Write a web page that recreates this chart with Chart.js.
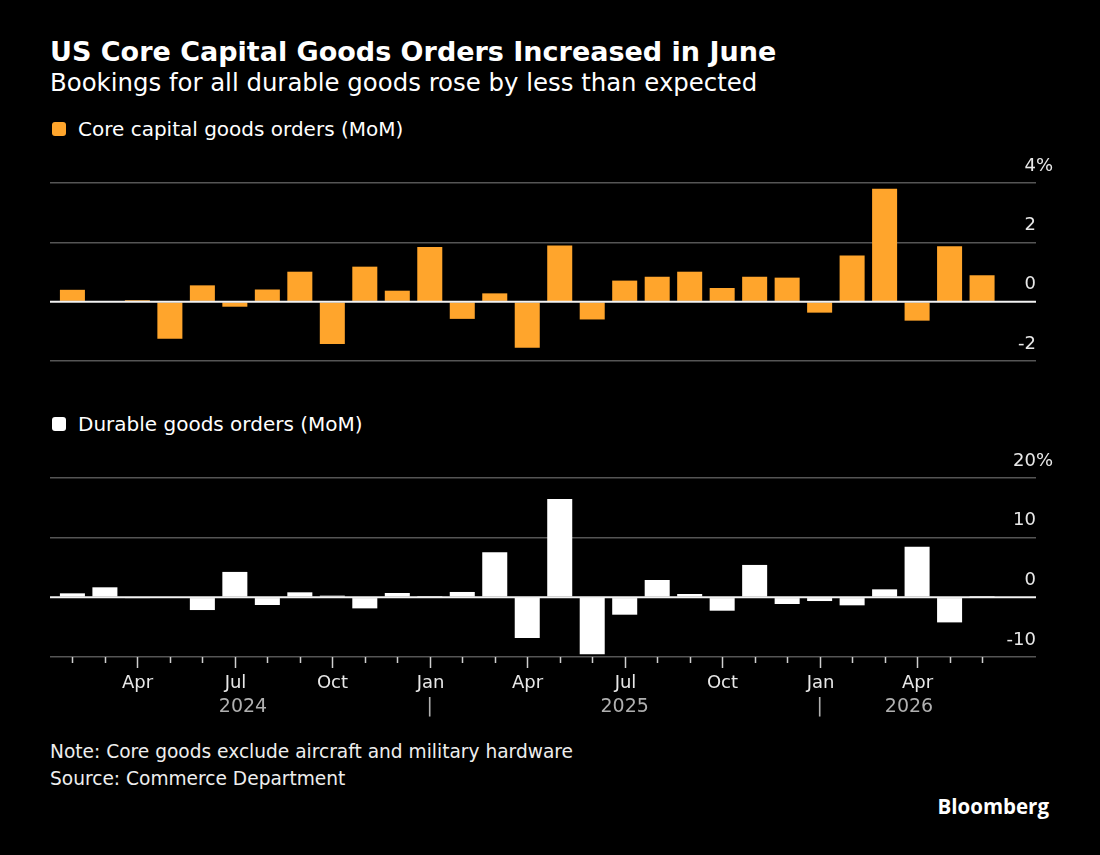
<!DOCTYPE html>
<html>
<head>
<meta charset="utf-8">
<style>
  body { margin: 0; background: #000; }
  #wrap { position: relative; width: 1100px; height: 855px; background: #000; color: #fff;
          font-family: "DejaVu Sans", sans-serif; overflow: hidden; }
  .title { position: absolute; left: 50px; top: 36px; font-size: 27px; font-weight: bold; white-space: nowrap; }
  .subtitle { position: absolute; left: 50px; top: 68px; font-size: 24.4px; white-space: nowrap; }
  .legend { position: absolute; left: 52px; font-size: 20px; display: flex; align-items: center; white-space: nowrap; }
  .legend i { display: inline-block; width: 14px; height: 14px; border-radius: 3px; margin-right: 12px; }
  .note { position: absolute; left: 50px; font-size: 18.6px; color: #eee; white-space: nowrap; }
  .logo { position: absolute; right: 51px; top: 792px; font-size: 20.5px; font-weight: bold; font-family: "Open Sans", sans-serif; }
  .box { position: absolute; left: 0; width: 1100px; }
</style>
</head>
<body>
<div id="wrap">
  <div class="title">US Core Capital Goods Orders Increased in June</div>
  <div class="subtitle">Bookings for all durable goods rose by less than expected</div>

  <div class="legend" style="top:117px"><i style="background:#ffa52c"></i>Core capital goods orders (MoM)</div>
  <div class="box" style="top:150px;height:230px"><canvas id="core"></canvas></div>

  <div class="legend" style="top:412px"><i style="background:#fff"></i>Durable goods orders (MoM)</div>
  <div class="box" style="top:440px;height:290px"><canvas id="durable"></canvas></div>

  <div class="note" style="top:741px">Note: Core goods exclude aircraft and military hardware</div>
  <div class="note" style="top:768px">Source: Commerce Department</div>
  <div class="logo">Bloomberg</div>
</div>

<script src="https://cdn.jsdelivr.net/npm/chart.js"></script>
<script>
  const dates = [
    "2024-02", "2024-03", "2024-04", "2024-05", "2024-06", "2024-07", "2024-08", "2024-09", "2024-10", "2024-11", "2024-12",
    "2025-01", "2025-02", "2025-03", "2025-04", "2025-05", "2025-06", "2025-07", "2025-08", "2025-09", "2025-10", "2025-11", "2025-12",
    "2026-01", "2026-02", "2026-03", "2026-04", "2026-05", "2026-06",
  ];
  // month-over-month % change
  const coreOrders = [
    0.4, 0.0, 0.05, -1.25, 0.55, -0.17, 0.41, 1.01, -1.43, 1.18, 0.37,
    1.84, -0.58, 0.28, -1.55, 1.89, -0.6, 0.71, 0.84, 1.01, 0.46, 0.84, 0.81,
    -0.37, 1.56, 3.81, -0.64, 1.87, 0.89,
  ];
  const durableOrders = [
    0.67, 1.68, -0.1, 0.0, -2.13, 4.26, -1.29, 0.84, 0.28, -1.85, 0.73,
    0.22, 0.9, 7.56, -6.83, 16.5, -9.52, -2.91, 2.91, 0.56, -2.24, 5.43, -1.12,
    -0.62, -1.34, 1.34, 8.46, -4.2, 0.22,
  ];
  const coreTicks = [-2, 0, 2, 4];
  const durableTicks = [-10, 0, 10, 20];
  const monthNames = ["Jan", "Feb", "Mar", "Apr", "May", "Jun", "Jul", "Aug", "Sep", "Oct", "Nov", "Dec"];

  const FONT = '"DejaVu Sans", sans-serif';

  // y labels sit above their gridline, numbers right aligned, % hangs off the top one
  const yLabels = {
    id: "yLabels",
    afterDraw(chart) {
      const { ctx, chartArea } = chart;
      const y = chart.scales.y;
      ctx.save();
      ctx.font = "18px " + FONT;
      ctx.fillStyle = "#e8e8e8";
      ctx.textBaseline = "middle";
      y.ticks.forEach((t) => {
        const py = y.getPixelForValue(t.value) - 17;
        ctx.textAlign = "right";
        ctx.fillText(String(t.value), chartArea.right, py);
        if (t.value === y.max) {
          ctx.textAlign = "left";
          ctx.fillText("%", chartArea.right, py);
        }
      });
      ctx.restore();
    },
  };

  const zeroLine = {
    id: "zeroLine",
    afterDatasetsDraw(chart) {
      const { ctx, chartArea } = chart;
      const py = chart.scales.y.getPixelForValue(0);
      ctx.save();
      ctx.strokeStyle = "#f2f2f2";
      ctx.lineWidth = 2;
      ctx.beginPath();
      ctx.moveTo(chartArea.left, py);
      ctx.lineTo(chartArea.right, py);
      ctx.stroke();
      ctx.restore();
    },
  };

  // month ticks, quarter labels and the year row under the bottom panel
  const timeAxis = {
    id: "timeAxis",
    afterDraw(chart) {
      const { ctx, chartArea } = chart;
      const x = chart.scales.x;
      const base = chartArea.bottom;
      ctx.save();
      ctx.strokeStyle = "#cfcfcf";
      ctx.lineWidth = 1.5;
      ctx.font = "18px " + FONT;
      ctx.textAlign = "center";
      ctx.textBaseline = "middle";
      dates.forEach((d, i) => {
        const m = +d.slice(5) - 1;
        const px = Math.round(x.getPixelForValue(i)) + 0.5;
        const major = m % 3 === 0;
        ctx.beginPath();
        ctx.moveTo(px, base);
        ctx.lineTo(px, base + (major ? 11 : 6));
        ctx.stroke();
        if (major) {
          ctx.fillStyle = "#e8e8e8";
          ctx.fillText(monthNames[m], px, base + 26);
        }
      });
      const years = [...new Set(dates.map((d) => d.slice(0, 4)))];
      ctx.fillStyle = "#b0b0b0";
      ctx.font = "19px " + FONT;
      years.forEach((yr, k) => {
        const first = dates.indexOf(yr + "-01");
        const next = dates.indexOf(years[k + 1] + "-01");
        const a = x.getPixelForValue(first < 0 ? -0.5 : first);
        const b = x.getPixelForValue(next < 0 ? dates.length - 0.5 : next);
        ctx.fillText(yr, (a + b) / 2, base + 50);
        if (first >= 0) ctx.fillText("|", a, base + 50);
      });
      ctx.restore();
    },
  };

  function makeChart(id, values, color, ticks, padTop, padBottom, extra) {
    return new Chart(document.getElementById(id), {
      type: "bar",
      data: {
        datasets: [
          {
            data: values.map((v, i) => ({ x: i, y: v })),
            backgroundColor: color,
            barPercentage: 1,
            categoryPercentage: 0.77,
          },
        ],
      },
      options: {
        responsive: true,
        maintainAspectRatio: false,
        animation: false,
        layout: { padding: { left: 50, right: 64, top: padTop, bottom: padBottom } },
        plugins: { legend: { display: false }, tooltip: { enabled: false } },
        scales: {
          x: { type: "linear", offset: false, min: -0.69, max: dates.length + 0.66, display: false },
          y: {
            min: ticks[0],
            max: ticks[ticks.length - 1],
            afterBuildTicks: (s) => { s.ticks = ticks.map((v) => ({ value: v })); },
            ticks: { display: false },
            border: { display: false },
            grid: {
              drawTicks: false,
              color: (c) => (c.tick.value === 0 ? "transparent" : "#555555"),
              lineWidth: 1.5,
            },
          },
        },
      },
      plugins: [yLabels, zeroLine].concat(extra),
    });
  }

  makeChart("core", coreOrders, "#ffa52c", coreTicks, 33, 19, []);
  makeChart("durable", durableOrders, "#ffffff", durableTicks, 38, 73, [timeAxis]);
</script>
</body>
</html>
